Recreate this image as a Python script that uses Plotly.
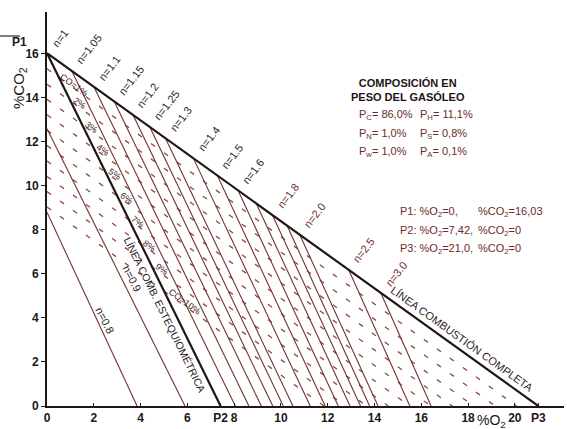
import plotly.graph_objects as go

# ---------------- data ----------------
p1_co2 = 16.03          # P1: %O2 = 0, %CO2 = 16.03
p2_o2 = 7.42            # P2: %O2 = 7.42, %CO2 = 0
p3_o2 = 21.0            # P3: %O2 = 21.0, %CO2 = 0

# excess-air lines n < 1 (from %CO2 axis to %O2 axis)
rich_n = ["n=0.8", "n=0.9"]
rich_co2_at_axis = [8.8, 12.6]
rich_o2_at_axis = [3.85, 5.9]

# excess-air lines n > 1 (from the complete-combustion line to the %O2 axis)
lean_n = [1.05, 1.1, 1.15, 1.2, 1.25, 1.3, 1.4, 1.5, 1.6, 1.7, 1.8, 1.9, 2.0, 2.5, 3.0]
lean_label = ["n=1.05", "n=1.1", "n=1.15", "n=1.2", "n=1.25", "n=1.3", "n=1.4", "n=1.5",
              "n=1.6", "", "n=1.8", "", "n=2.0", "n=2.5", "n=3.0"]
lean_top_o2 = [1.06, 2.01, 2.88, 3.68, 4.40, 5.07, 6.26, 7.28, 8.17, 8.95, 9.64, 10.26, 10.81, 12.90, 14.27]
lean_top_co2 = [15.22, 14.49, 13.82, 13.22, 12.66, 12.15, 11.25, 10.47, 9.79, 9.19, 8.67, 8.20, 7.77, 6.18, 5.13]
lean_bottom_o2 = [8.05, 8.63, 9.16, 9.65, 10.10, 10.51, 11.25, 11.89, 12.45, 12.95, 13.40, 13.79, 14.15, 15.51, 16.42]

# constant-CO lines (dashed)
co_text = ["CO=1%", "2%", "3%", "4%", "5%", "6%", "7%", "8%", "9%", "CO=10%"]
co_axis_co2 = [15.32, 14.62, 13.93, 13.23, 12.53, 11.83, 11.13, 10.43, 9.74, 9.04]
co_axis_o2 = [20.07, 19.16, 18.24, 17.33, 16.41, 15.50, 14.59, 13.67, 12.76, 11.84]
co_stoich_o2 = [0.5, 1.0, 1.5, 2.0, 2.5, 3.0, 3.5, 4.0, 4.5, 5.0]
co_stoich_co2 = [14.94, 13.86, 12.78, 11.70, 10.62, 9.54, 8.46, 7.38, 6.30, 5.22]

x_tickvals = [0, 2, 4, 6, 7.42, 8, 10, 12, 14, 16, 18, 20, 21]
x_ticktext = ["0", "2", "4", "6", "P2", "8", "10", "12", "14", "16", "18", "20", "P3"]
y_tickvals = [0, 2, 4, 6, 8, 10, 12, 14, 16]

composition = [("P<sub>C</sub>= 86,0%", "P<sub>H</sub>= 11,1%"),
               ("P<sub>N</sub>= 1,0%", "P<sub>S</sub>= 0,8%"),
               ("P<sub>w</sub>= 1,0%", "P<sub>A</sub>= 0,1%")]
points_text = [("P1: %O<sub>2</sub>=0,", "%CO<sub>2</sub>=16,03"),
               ("P2: %O<sub>2</sub>=7,42,", "%CO<sub>2</sub>=0"),
               ("P3: %O<sub>2</sub>=21,0,", "%CO<sub>2</sub>=0")]

# ---------------- styles / layout geometry ----------------
FONT = "Liberation Sans, Arial, sans-serif"
BLACK = "#1d1716"
BROWN = "#74322c"
DASHC = "#8c4a43"
TXT = "#2a1c1c"
TXTB = "#6e2a28"
ML, MR, MT, MB = 47, 3, 12, 23
W, H = 567, 429
PW, PH = W - ML - MR, H - MT - MB


def px(xpix):
    return (xpix - ML) / PW


def py(ypix):
    return (H - MB - ypix) / PH


fig = go.Figure()

# dashed constant-CO lines
for i in range(len(co_text)):
    fig.add_trace(go.Scatter(x=[0, co_axis_o2[i]], y=[co_axis_co2[i], 0], mode="lines",
                             line=dict(color=DASHC, width=1.3, dash="5px,11px"),
                             hoverinfo="skip", showlegend=False, cliponaxis=False))

# excess-air lines
xs, ys = [], []
for i in range(len(rich_n)):
    xs += [0, rich_o2_at_axis[i], None]
    ys += [rich_co2_at_axis[i], 0, None]
for i in range(len(lean_n)):
    xs += [lean_top_o2[i], lean_bottom_o2[i], None]
    ys += [lean_top_co2[i], 0, None]
fig.add_trace(go.Scatter(x=xs, y=ys, mode="lines", line=dict(color=BROWN, width=1.1),
                         hoverinfo="skip", showlegend=False, cliponaxis=False))

# stoichiometric and complete combustion lines
fig.add_trace(go.Scatter(x=[0, p2_o2], y=[p1_co2, 0], mode="lines",
                         line=dict(color=BLACK, width=2.2), showlegend=False, cliponaxis=False))
fig.add_trace(go.Scatter(x=[0, p3_o2], y=[p1_co2, 0], mode="lines",
                         line=dict(color=BLACK, width=2.2), showlegend=False, cliponaxis=False))

ann = []
# n labels at the top of each line
ann.append(dict(x=0, y=p1_co2, text="n=1", textangle=-52, xanchor="left", yanchor="bottom",
                yshift=1, font=dict(size=11, color=TXT)))
for i, lab in enumerate(lean_label):
    if not lab:
        continue
    col = TXT if lean_n[i] <= 1.6 else TXTB
    ann.append(dict(x=lean_top_o2[i], y=lean_top_co2[i], text=lab, textangle=-52,
                    xanchor="left", yanchor="bottom", xshift=-1, yshift=2,
                    font=dict(size=11, color=col)))
# rich-mixture labels along their lines
ann.append(dict(x=rich_o2_at_axis[0] * 0.56, y=rich_co2_at_axis[0] * 0.44, text=rich_n[0],
                textangle=63, xshift=8, font=dict(size=11, color=TXT)))
ann.append(dict(x=rich_o2_at_axis[1] * 0.54, y=rich_co2_at_axis[1] * 0.46, text=rich_n[1],
                textangle=63, xshift=10, font=dict(size=11, color=TXT)))
# CO labels along stoichiometric line
for i, t in enumerate(co_text):
    if i == 0:
        xs_, ys_ = 15, -8
    elif i == len(co_text) - 1:
        xs_, ys_ = 21, -11
    else:
        xs_, ys_ = 9, -2
    ann.append(dict(x=co_stoich_o2[i], y=co_stoich_co2[i], text=t, textangle=36,
                    xshift=xs_, yshift=ys_, font=dict(size=9, color="#3e1c1c")))
# line captions
ann.append(dict(x=5.05, y=4.14, text="LÍNEA COMB. ESTEQUIOMÉTRICA", textangle=63.8,
                font=dict(size=10.5, color=TXT)))
ann.append(dict(x=17.75, y=3.05, text="LÍNEA COMBUSTIÓN COMPLETA", textangle=35.7,
                font=dict(size=11, color=TXT)))
# composition block
ann.append(dict(xref="paper", yref="paper", x=px(408), y=py(90),
                text="<b>COMPOSICIÓN EN<br>PESO DEL GASÓLEO</b>", align="center",
                font=dict(size=11, color="#1d1515")))
for r, (a, b) in enumerate(composition):
    yy = py(115 + 18.5 * r)
    ann.append(dict(xref="paper", yref="paper", x=px(357), y=yy, text=a,
                    xanchor="left", font=dict(size=11, color=TXTB)))
    ann.append(dict(xref="paper", yref="paper", x=px(418), y=yy, text=b,
                    xanchor="left", font=dict(size=11, color=TXTB)))
for r, (a, b) in enumerate(points_text):
    yy = py(212 + 18.5 * r)
    ann.append(dict(xref="paper", yref="paper", x=px(398), y=yy, text=a,
                    xanchor="left", font=dict(size=11, color=TXTB)))
    ann.append(dict(xref="paper", yref="paper", x=px(476), y=yy, text=b,
                    xanchor="left", font=dict(size=11, color=TXTB)))
# axis titles and P1
ann.append(dict(xref="paper", yref="paper", x=px(19), y=py(88),
                text="%CO<sub>2</sub>", textangle=-90, font=dict(size=15, color=BLACK)))
ann.append(dict(xref="paper", yref="paper", x=px(491), y=py(421),
                text="%O<sub>2</sub>", font=dict(size=14, color=BLACK)))
ann.append(dict(xref="paper", yref="paper", x=px(19), y=py(42),
                text="<b>P1</b>", font=dict(size=12, color=BLACK)))
for a in ann:
    a.setdefault("showarrow", False)
    a.setdefault("xref", "x")
    a.setdefault("yref", "y")
    a.setdefault("xanchor", "center")
    a.setdefault("yanchor", "middle")

fig.update_layout(
    width=W, height=H,
    margin=dict(l=ML, r=MR, t=MT, b=MB, autoexpand=False),
    paper_bgcolor="white", plot_bgcolor="white",
    font=dict(family=FONT, color=BLACK),
    annotations=ann,
    shapes=[dict(type="line", xref="paper", yref="paper", x0=px(0), x1=px(20),
                 y0=py(36), y1=py(36), layer="above",
                 line=dict(color="#555555", width=1.5))],
    xaxis=dict(range=[0, 22.1], showgrid=False, zeroline=False, showline=True,
               automargin=False,
               linecolor=BLACK, linewidth=1.6, ticks="inside", ticklen=3,
               tickcolor=BLACK, tickvals=x_tickvals, ticktext=x_ticktext, tickangle=0,
               tickfont=dict(size=12, color=BLACK, weight="bold")),
    yaxis=dict(range=[0, 17.9], showgrid=False, zeroline=False, showline=True,
               automargin=False,
               linecolor=BLACK, linewidth=1.6, ticks="outside", ticklen=4,
               tickcolor=BLACK, tickvals=y_tickvals,
               tickfont=dict(size=12, color=BLACK, weight="bold")),
)

fig.write_html("out.html", config={"displayModeBar": False},
               post_script="document.body.style.margin='0';document.body.style.overflow='hidden';")
